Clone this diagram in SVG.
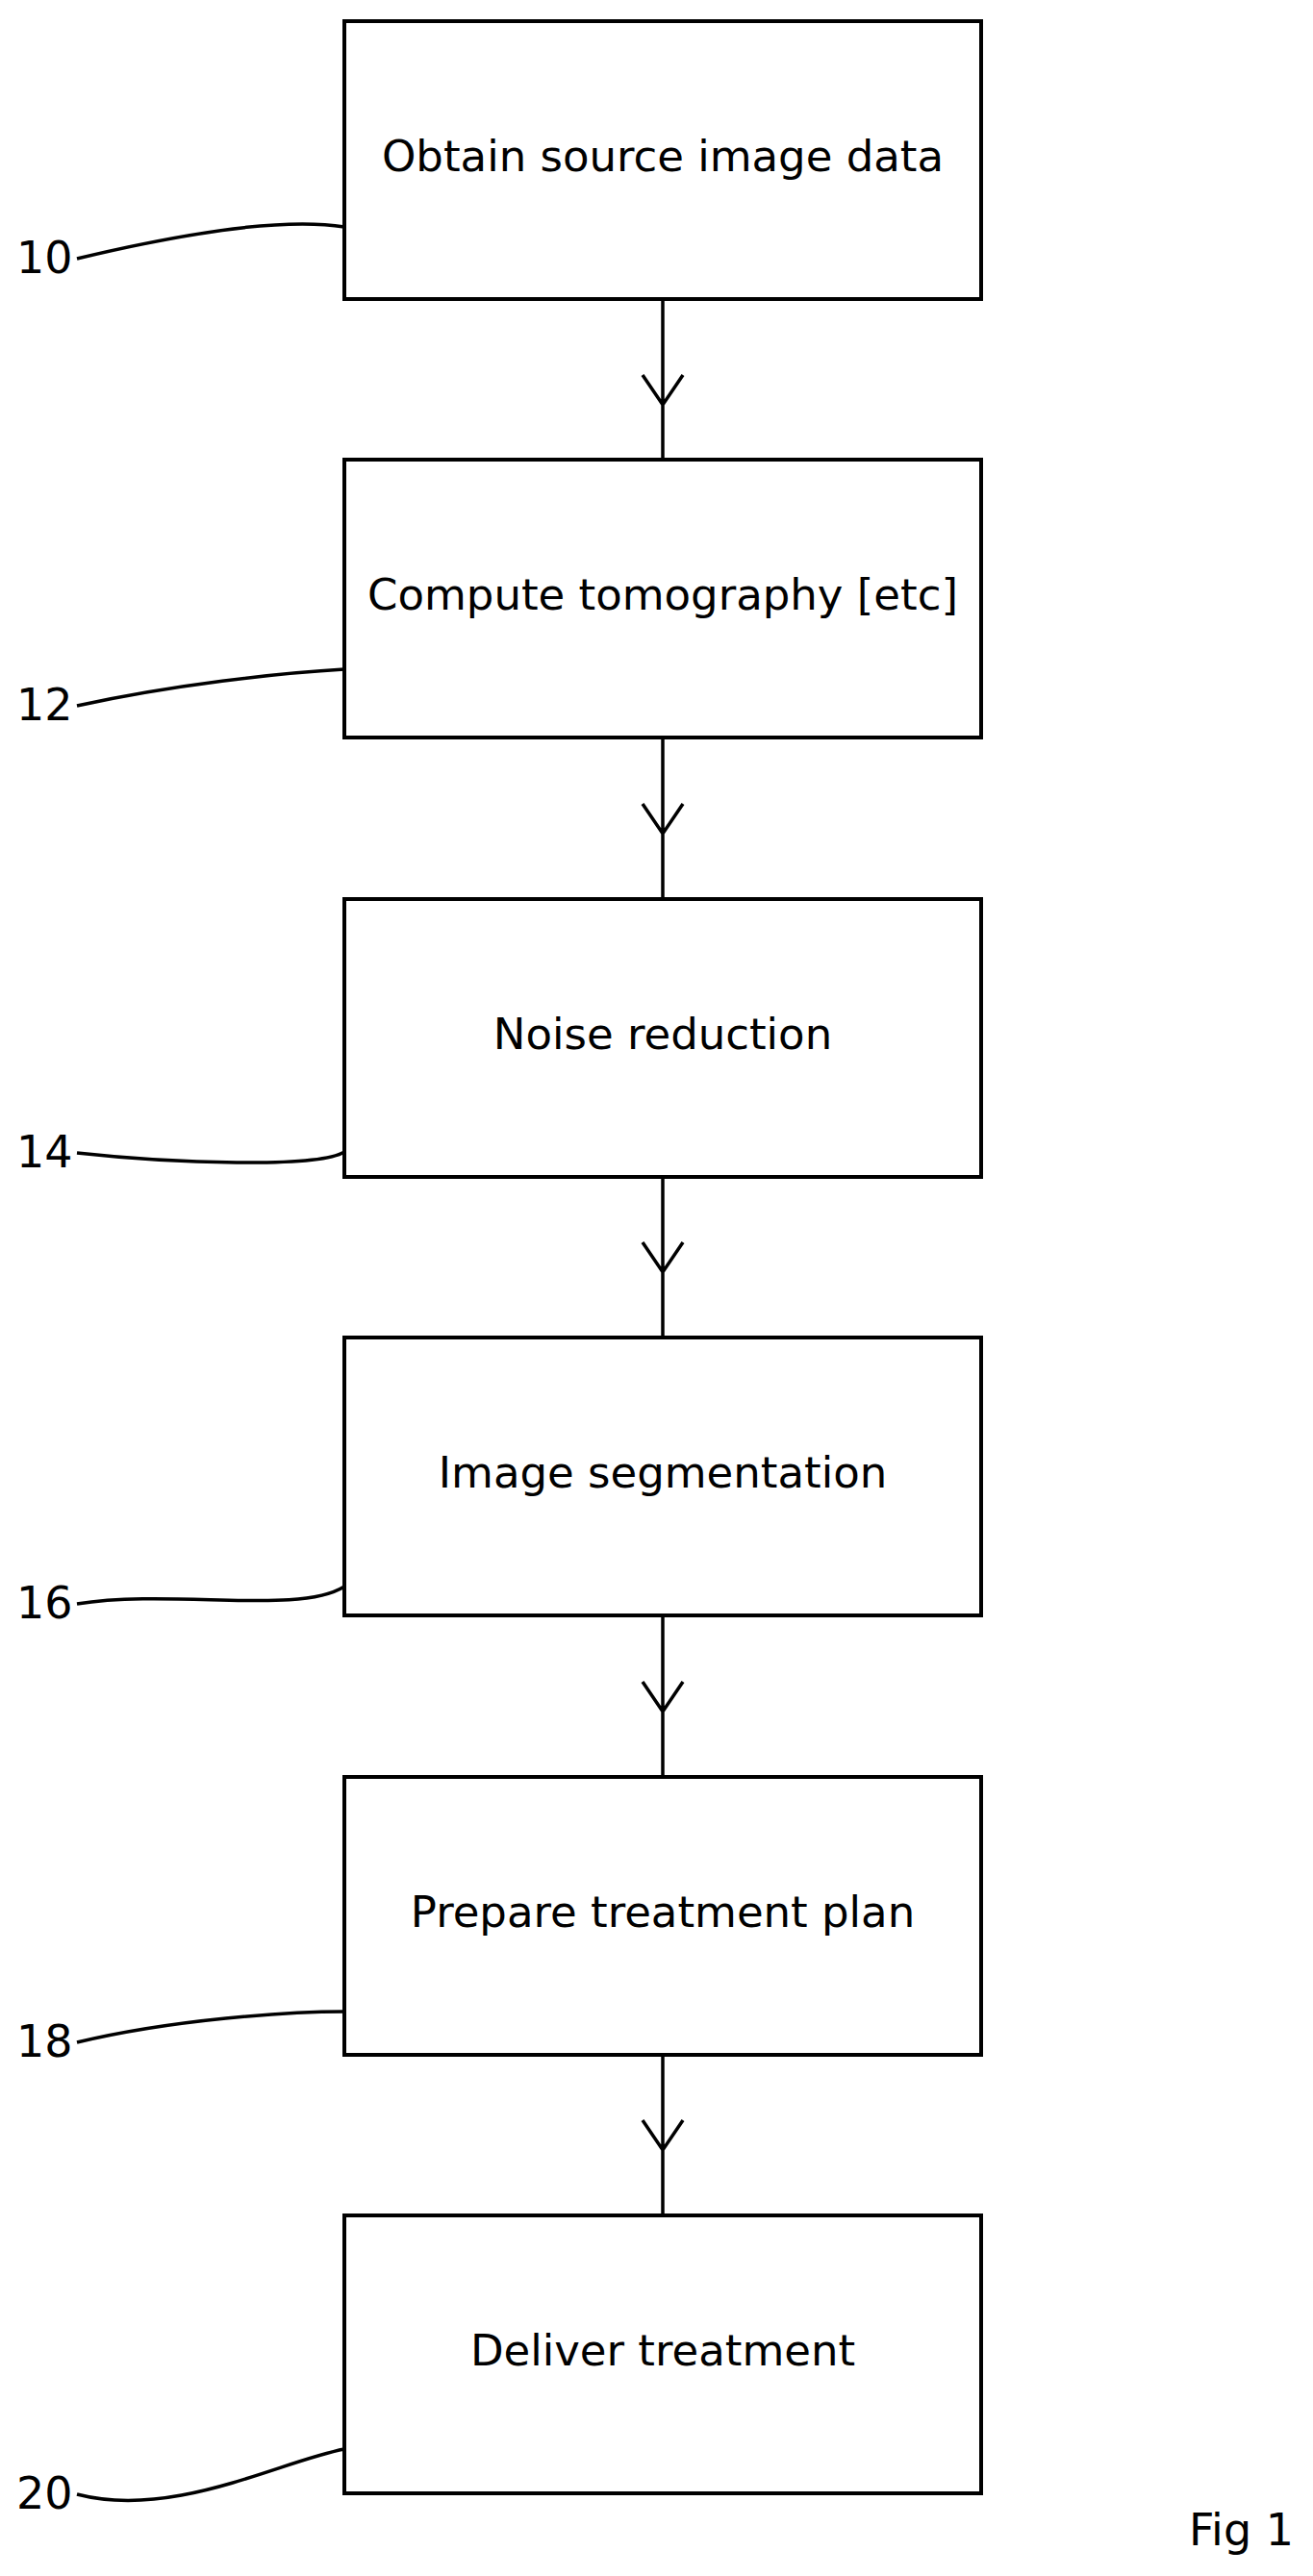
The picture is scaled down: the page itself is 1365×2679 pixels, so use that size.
<svg xmlns="http://www.w3.org/2000/svg" width="1365" height="2679" viewBox="0 0 1365 2679">
<style>
.b{fill:#fff;stroke:#000;stroke-width:4}
.t{font-family:"DejaVu Sans",sans-serif;font-size:45px;text-anchor:middle;dominant-baseline:middle}
.n{font-family:"DejaVu Sans",sans-serif;font-size:46px;dominant-baseline:middle}
.c{fill:none;stroke:#000;stroke-width:3.5}
</style>
<rect width="1365" height="2679" fill="#fff"/>
<g id="n10"><rect class="b" x="358" y="22" width="662" height="289"/><text class="t" x="689" y="166">Obtain source image data</text></g>
<g id="n12"><rect class="b" x="358" y="478" width="662" height="289"/><text class="t" x="689" y="622">Compute tomography [etc]</text></g>
<g id="n14"><rect class="b" x="358" y="935" width="662" height="289"/><text class="t" x="689" y="1079">Noise reduction</text></g>
<g id="n16"><rect class="b" x="358" y="1391" width="662" height="289"/><text class="t" x="689" y="1535">Image segmentation</text></g>
<g id="n18"><rect class="b" x="358" y="1848" width="662" height="289"/><text class="t" x="689" y="1992">Prepare treatment plan</text></g>
<g id="n20"><rect class="b" x="358" y="2304" width="662" height="289"/><text class="t" x="689" y="2448">Deliver treatment</text></g>
<g id="connectors">
<path class="c" d="M689 311V478M668 390L689 421L710 390"/>
<path class="c" d="M689 767V935M668 836L689 867L710 836"/>
<path class="c" d="M689 1224V1391M668 1292L689 1323L710 1292"/>
<path class="c" d="M689 1680V1848M668 1749L689 1780L710 1749"/>
<path class="c" d="M689 2137V2304M668 2205L689 2236L710 2205"/>
<path class="c" d="M80 269C180 245 290 225 358 236"/>
<path class="c" d="M80 734C180 712 290 700 358 696"/>
<path class="c" d="M80 1199C180 1210 330 1215 358 1198"/>
<path class="c" d="M80 1668C180 1652 310 1680 358 1650"/>
<path class="c" d="M80 2124C180 2100 300 2092 358 2092"/>
<path class="c" d="M80 2594C180 2620 290 2560 358 2547"/>
</g>
<g id="labels">
<text class="n" x="17" y="271">10</text>
<text class="n" x="17" y="736">12</text>
<text class="n" x="17" y="1201">14</text>
<text class="n" x="17" y="1670">16</text>
<text class="n" x="17" y="2126">18</text>
<text class="n" x="17" y="2596">20</text>
<text class="n" x="1236" y="2634">Fig 1</text>
</g>
</svg>
